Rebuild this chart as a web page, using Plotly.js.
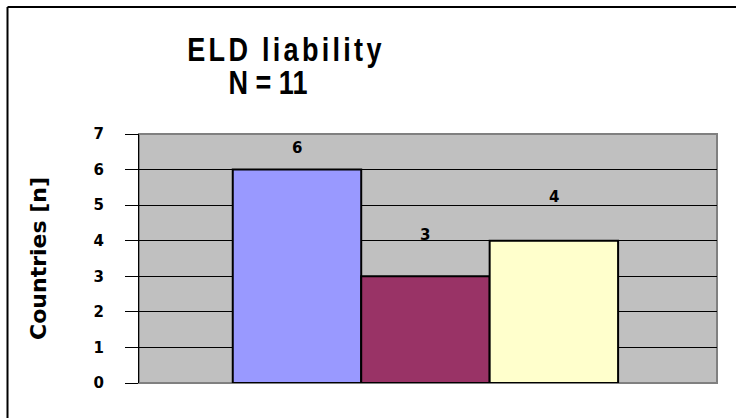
<!DOCTYPE html>
<html>
<head>
<meta charset="utf-8">
<script src="https://cdn.plot.ly/plotly-3.0.1.min.js"></script>
<style>
  html, body { margin: 0; padding: 0; background: #fff; }
  #chart { width: 736px; height: 418px; }
  .gtitle { transform-box: fill-box; transform-origin: center; transform: scaleX(0.82); }
  .gtitle tspan.line:first-child { letter-spacing: 4px; }
  .gtitle tspan.line:nth-child(2) { letter-spacing: 0px; }
</style>
</head>
<body>
<div id="chart"></div>
<script>
// Data
const categories = ["Series 1", "Series 2", "Series 3"];
const values = [6, 3, 4];
const barColors = ["#9999FF", "#993366", "#FFFFCC"];
const yTicks = [0, 1, 2, 3, 4, 5, 6, 7];
const titleLines = ["ELD liability", "N = 11"];
const yTitle = "Countries [n]";
const labelShift = [22, 41, 44];

const labelFont = { family: "DejaVu Sans, Verdana, sans-serif", size: 15, color: "#000", weight: 700 };
const titleFamily = "Liberation Sans, Arial, sans-serif";

const trace = {
  type: "bar",
  x: categories,
  y: values,
  width: 1,
  marker: { color: barColors, line: { color: "#000", width: 2 } },
  hoverinfo: "x+y",
  showlegend: false
};

const annotations = categories.map((c, i) => ({
  x: c, y: values[i], xref: "x", yref: "y",
  text: String(values[i]), showarrow: false,
  yshift: labelShift[i], yanchor: "middle",
  font: labelFont
}));

const layout = {
  width: 736, height: 418,
  margin: { l: 139, r: 19, t: 134, b: 35 },
  paper_bgcolor: "#fff",
  plot_bgcolor: "#C0C0C0",
  title: {
    text: titleLines.join("<br>"),
    xref: "container", yref: "container",
    x: 286 / 736, y: 1 - 61 / 418,
    xanchor: "center", yanchor: "top",
    font: { family: titleFamily, size: 33, color: "#000", weight: 700 }
  },
  bargap: 0,
  xaxis: {
    type: "category",
    range: [-1.23, 3.27],
    showticklabels: false, showgrid: false, zeroline: false, showline: false, ticks: ""
  },
  yaxis: {
    range: [0, 7],
    tickvals: yTicks,
    ticktext: yTicks.map(String),
    ticks: "outside", ticklen: 13, tickcolor: "#000", tickwidth: 1,
    ticklabelstandoff: 18,
    showline: true, linecolor: "#000", linewidth: 1,
    showgrid: true, gridcolor: "#000", gridwidth: 1,
    zeroline: false,
    tickfont: labelFont,
    title: {
      text: yTitle,
      font: { family: "DejaVu Sans, Verdana, sans-serif", size: 22, color: "#000", weight: 700 },
      standoff: 40
    }
  },
  shapes: [
    { type: "rect", xref: "paper", yref: "paper", x0: 0, x1: 1, y0: 0, y1: 1,
      line: { color: "#808080", width: 2 }, layer: "below" },
    { type: "line", xref: "paper", yref: "paper", x0: -0.2275, x1: 1.1, y0: 1.51, y1: 1.51,
      line: { color: "#000", width: 2 } },
    { type: "line", xref: "paper", yref: "paper", x0: -0.2275, x1: -0.2275, y0: 1.51, y1: -0.2,
      line: { color: "#000", width: 2 } }
  ],
  annotations: annotations
};

Plotly.newPlot("chart", [trace], layout, { displayModeBar: false, staticPlot: true }).then(() => {
  const lines = document.querySelectorAll(".gtitle tspan.line");
  if (lines.length > 1) {
    lines[1].setAttribute("dy", "1em");
    lines[1].setAttribute("dx", "-22");
  }
});
</script>
</body>
</html>
